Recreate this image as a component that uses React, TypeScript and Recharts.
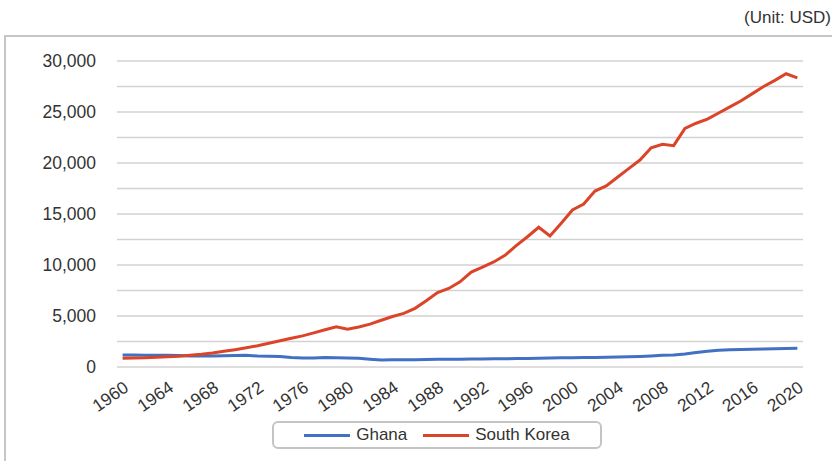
import { LineChart, Line, XAxis, YAxis, CartesianGrid, Legend } from 'recharts';

// GDP per capita, one value per year
const years: number[] = Array.from({ length: 61 }, (_, i) => 1960 + i);

const ghana: number[] = [
  1180, 1170, 1160, 1150, 1140, 1120, 1090, 1080, 1080, 1100,
  1130, 1140, 1080, 1060, 1040, 920, 880, 890, 940, 910,
  880, 850, 760, 680, 700, 710, 720, 730, 750, 760,
  770, 780, 790, 810, 810, 830, 840, 860, 880, 900,
  910, 920, 940, 960, 990, 1010, 1040, 1090, 1140, 1180,
  1280, 1420, 1540, 1650, 1700, 1720, 1740, 1770, 1790, 1820,
  1830,
];

const southKorea: number[] = [
  850, 880, 900, 960, 1010, 1060, 1160, 1250, 1380, 1540,
  1700, 1880, 2080, 2330, 2580, 2820, 3050, 3350, 3650, 3950,
  3700, 3920, 4200, 4580, 4950, 5250, 5750, 6500, 7300, 7700,
  8350, 9300, 9800, 10300, 10950, 11900, 12770, 13700, 12840, 14090,
  15390, 15980, 17250, 17750, 18600, 19450, 20290, 21500, 21830, 21700,
  23400, 23900, 24300, 24900, 25500, 26100, 26800, 27500, 28100, 28750,
  28350,
];

const yearTicks: number[] = [1960, 1964, 1968, 1972, 1976, 1980, 1984, 1988, 1992, 1996, 2000, 2004, 2008, 2012, 2016, 2020];
const valueTicks: number[] = [0, 5000, 10000, 15000, 20000, 25000, 30000];
const gridLines: number[] = [0, 2500, 5000, 7500, 10000, 12500, 15000, 17500, 20000, 22500, 25000, 27500, 30000];

const data = years.map((year, i) => ({ year, ghana: ghana[i], korea: southKorea[i] }));

const FONT = '"Liberation Sans", Arial, sans-serif';
const BLUE = '#4270c2';
const RED = '#db4429';

function LegendBox() {
  return (
    <div
      style={{
        width: 326,
        height: 24,
        border: '2px solid #c4c4c4',
        borderRadius: 6,
        display: 'flex',
        alignItems: 'center',
        justifyContent: 'center',
        gap: 16,
        fontFamily: FONT,
        fontSize: 17,
        color: '#333',
        boxSizing: 'content-box',
      }}
    >
      <span style={{ display: 'flex', alignItems: 'center', gap: 6 }}>
        <span style={{ width: 46, height: 3, background: BLUE, display: 'inline-block' }} />
        Ghana
      </span>
      <span style={{ display: 'flex', alignItems: 'center', gap: 6 }}>
        <span style={{ width: 46, height: 3, background: RED, display: 'inline-block' }} />
        South Korea
      </span>
    </div>
  );
}

export default function App() {
  return (
    <div style={{ position: 'fixed', left: 0, top: 0, width: 832, height: 461, overflow: 'hidden', background: '#fff' }}>
      <div
        style={{
          position: 'absolute',
          right: 1,
          top: 8,
          fontFamily: FONT,
          fontSize: 17,
          color: '#333',
          whiteSpace: 'nowrap',
        }}
      >
        (Unit: USD)
      </div>
      <div
        style={{
          position: 'absolute',
          left: 4,
          top: 35,
          width: 900,
          height: 500,
          border: '2px solid #c6c6c6',
        }}
      />
      <div style={{ position: 'absolute', left: 0, top: 0 }}>
        <LineChart width={832} height={461} data={data} margin={{ top: 61, right: 29, bottom: 0, left: 0 }}>
          <CartesianGrid vertical={false} stroke="#d2d2d2" strokeWidth={1.5} horizontalValues={gridLines} />
          <XAxis
            dataKey="year"
            type="number"
            domain={[1959.5, 2020.5]}
            ticks={yearTicks}
            interval={0}
            axisLine={false}
            tickLine={false}
            height={94}
            angle={-35}
            textAnchor="end"
            tickMargin={7}
            tick={{ fill: '#333', fontSize: 17.5, fontFamily: FONT }}
          />
          <YAxis
            type="number"
            domain={[0, 30000]}
            ticks={valueTicks}
            width={117}
            axisLine={false}
            tickLine={false}
            tickSize={0}
            tickMargin={21}
            tickFormatter={(v: number) => v.toLocaleString('en-US')}
            tick={{ fill: '#333', fontSize: 17.5, fontFamily: FONT }}
          />
          <Legend
            layout="horizontal"
            verticalAlign="middle"
            align="center"
            wrapperStyle={{ top: 421, left: 272, width: 330 }}
            content={() => <LegendBox />}
          />
          <Line dataKey="ghana" name="Ghana" stroke={BLUE} strokeWidth={3} dot={false} isAnimationActive={false} />
          <Line dataKey="korea" name="South Korea" stroke={RED} strokeWidth={3} dot={false} isAnimationActive={false} />
        </LineChart>
      </div>
    </div>
  );
}
